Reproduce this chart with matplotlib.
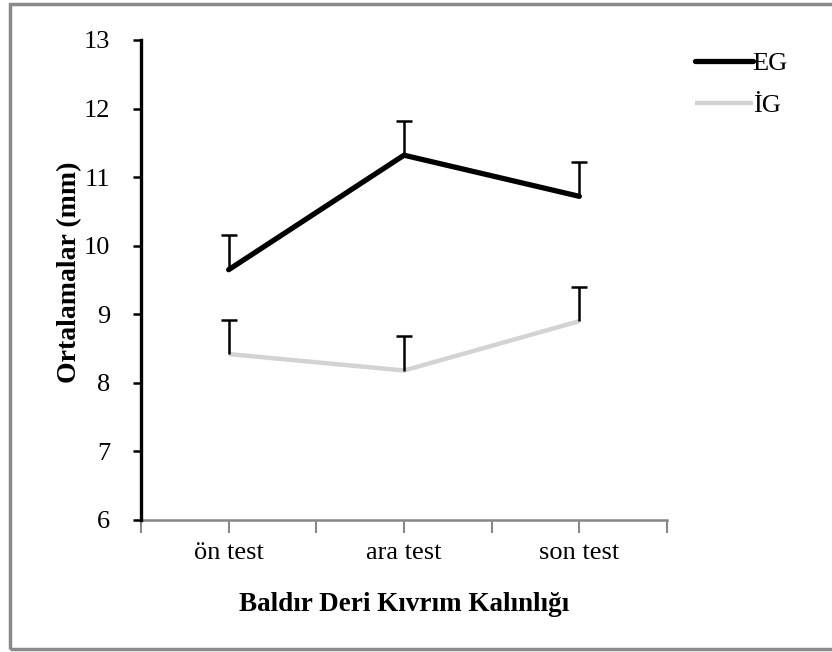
import matplotlib
matplotlib.use("Agg")
import matplotlib.pyplot as plt
from matplotlib.patches import Rectangle
from matplotlib.ticker import FixedLocator
import numpy as np

categories = ["ön test", "ara test", "son test"]
eg_means = [9.65, 11.32, 10.72]
eg_err = [0.50, 0.50, 0.50]
ig_means = [8.42, 8.18, 8.90]
ig_err = [0.50, 0.50, 0.50]
series_names = ["EG", "İG"]
y_ticks = [6, 7, 8, 9, 10, 11, 12, 13]

plt.rcParams['font.family'] = ['Liberation Serif', 'DejaVu Serif']

fig = plt.figure(figsize=(8.32, 6.52), dpi=100)
fig.patch.set_facecolor('white')
# frame border
fig.patches.append(Rectangle((9.5/832, 1 - 649/652), 1.2, (649 - 4) / 652,
                             transform=fig.transFigure, fill=False,
                             edgecolor='#8a8a8a', linewidth=2.5, zorder=0))

ax = fig.add_axes([141/832, 1 - 520/652, (667 - 141)/832, (520 - 40)/652])
x = np.arange(len(categories))

l1, = ax.plot(x, eg_means, color='black', lw=3.8, solid_capstyle='round',
              solid_joinstyle='miter', zorder=3)
l2, = ax.plot(x, ig_means, color='#d3d3d3', lw=3.2, solid_capstyle='butt', zorder=3)

for means, err in [(eg_means, eg_err), (ig_means, ig_err)]:
    m = np.array(means)
    top = m + np.array(err)
    ax.vlines(x, m, top, color='black', lw=1.8, zorder=4)
    ax.plot(x, top, ls='none', marker='_', markersize=12, mew=1.8,
            color='black', zorder=4)

ax.set_xlim(-0.5, 2.5)
ax.set_ylim(6, 13)
ax.set_yticks(y_ticks)
ax.set_xticks(x)
ax.set_xticklabels(categories)
ax.xaxis.set_minor_locator(FixedLocator([-0.5, 0.5, 1.5, 2.5]))

for s in ['top', 'right']:
    ax.spines[s].set_visible(False)
ax.spines['left'].set_color('black')
ax.spines['left'].set_linewidth(2.4)
ax.spines['bottom'].set_color('#888888')
ax.spines['bottom'].set_linewidth(1.8)
ax.spines['left'].set_zorder(5)

ax.tick_params(axis='y', direction='out', length=6, width=1.8, color='black',
               labelsize=19, pad=16)
ax.tick_params(axis='x', which='both', direction='out', length=9, width=1.5,
               color='#888888', labelsize=19, pad=7)

ax.set_ylabel("Ortalamalar (mm)", fontsize=20, fontweight='bold')
ax.set_xlabel("Baldır Deri Kıvrım Kalınlığı", fontsize=19.5, fontweight='bold')
ax.yaxis.set_label_coords((82 - 141) / 526, (520 - 272) / 480)
ax.xaxis.set_label_coords(0.5, (520 - 592) / 480)

leg = fig.legend([l1, l2], series_names, loc='upper left',
                 bbox_to_anchor=(684/832, 1 - 41/652), frameon=False,
                 fontsize=19, handlelength=2.2, handletextpad=0.0,
                 labelspacing=0.72, borderaxespad=0)

fig.savefig("out.png", dpi=100)
